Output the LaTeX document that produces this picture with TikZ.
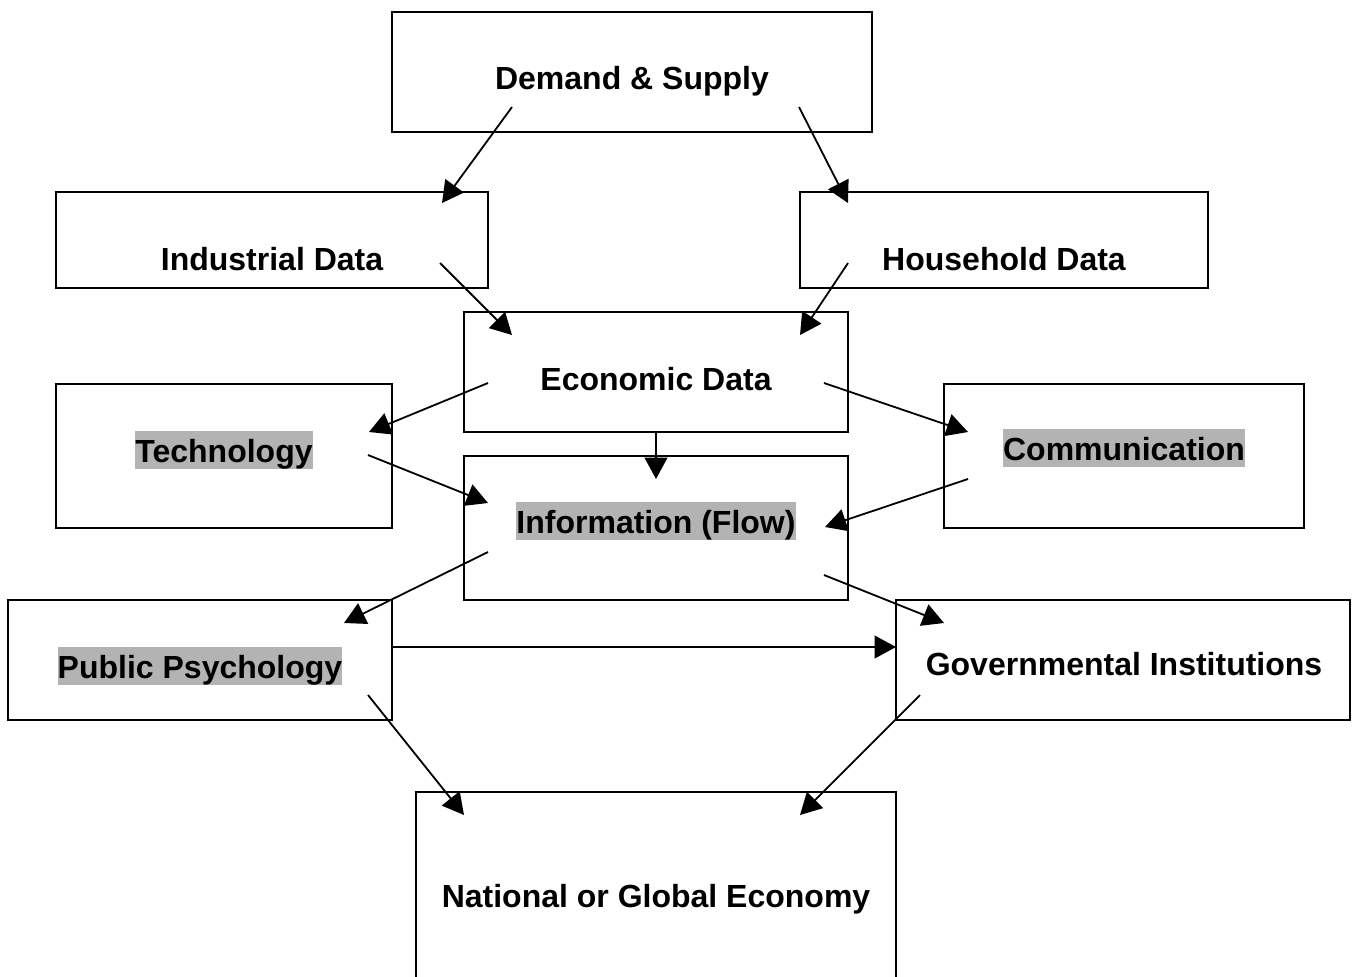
\documentclass[tikz,border=0pt]{standalone}
\usepackage{fontspec}
\setmainfont{Liberation Sans}
\usetikzlibrary{arrows.meta}
\definecolor{hl}{RGB}{179,179,179}
\begin{document}
\begin{tikzpicture}[x=0.75pt,y=-0.75pt,
  box/.style={draw, line width=1.6pt, fill=white, inner sep=0pt},
  lbl/.style={font=\fontsize{24pt}{28pt}\selectfont\bfseries, anchor=base, inner sep=0pt, text height=23.25pt, text depth=5.5pt},
  hlbl/.style={lbl, fill=hl},
  conn/.style={line width=1.35pt, -{Triangle[length=16pt,width=17pt]}}]
\useasboundingbox (0,0) rectangle (1352,976);
\clip (0,0) rectangle (1352,976);
\fill[white] (0,0) rectangle (1352,976);
% boxes
\node[box, minimum width=360pt, minimum height=90pt] (ds) at (632,72) {};
\node[box, minimum width=324pt, minimum height=72pt] (ind) at (272,240) {};
\node[box, minimum width=306pt, minimum height=72pt] (hh) at (1004,240) {};
\node[box, minimum width=288pt, minimum height=90pt] (eco) at (656,372) {};
\node[box, minimum width=252pt, minimum height=108pt] (tech) at (224,456) {};
\node[box, minimum width=288pt, minimum height=108pt] (info) at (656,528) {};
\node[box, minimum width=270pt, minimum height=108pt] (comm) at (1124,456) {};
\node[box, minimum width=288pt, minimum height=90pt] (pub) at (200,660) {};
\node[box, minimum width=340.5pt, minimum height=90pt] (gov) at (1123,660) {};
\node[box, minimum width=360pt, minimum height=162pt] (nat) at (656,900) {};
% texts
\node[lbl] (tds) at (632,89) {Demand \& Supply};
\node[lbl] (tind) at (272,270) {Industrial Data};
\node[lbl] (thh) at (1004,270) {Household Data};
\node[lbl] (teco) at (656,390) {Economic Data};
\node[hlbl] (ttech) at (224,462) {Technology};
\node[hlbl] (tinfo) at (656,533) {Information (Flow)};
\node[hlbl] (tcomm) at (1124,460) {Communication};
\node[hlbl] (tpub) at (200,678) {Public Psychology};
\node[lbl] (tgov) at (1124,675) {Governmental Institutions};
\node[lbl] (tnat) at (656,907) {National or Global Economy};
% connector end points
\coordinate (ds-a) at (512,107);  \coordinate (ind-in) at (442,203);
\coordinate (ds-b) at (799,107);  \coordinate (hh-in) at (848,203);
\coordinate (ind-out) at (440,263); \coordinate (eco-in1) at (512,335);
\coordinate (hh-out) at (848,263);  \coordinate (eco-in2) at (800,335);
\coordinate (eco-a) at (488,383);  \coordinate (tech-in) at (369,432);
\coordinate (tech-out) at (368,455); \coordinate (info-in1) at (488,503);
\coordinate (eco-b) at (656,432);  \coordinate (info-in2) at (656,479);
\coordinate (eco-c) at (824,383);  \coordinate (comm-in) at (968,432);
\coordinate (comm-out) at (968,479); \coordinate (info-in3) at (825,527);
\coordinate (info-a) at (824,575); \coordinate (gov-in1) at (944,623);
\coordinate (info-b) at (488,552); \coordinate (pub-in) at (344,623);
\coordinate (pub-a) at (392,647);  \coordinate (gov-in2) at (896,647);
\coordinate (pub-b) at (368,695);  \coordinate (nat-in1) at (464,815);
\coordinate (gov-out) at (920,695); \coordinate (nat-in2) at (800,815);
% connectors
\draw[conn] (ds-a) -- (ind-in);
\draw[conn] (ds-b) -- (hh-in);
\draw[conn] (ind-out) -- (eco-in1);
\draw[conn] (hh-out) -- (eco-in2);
\draw[conn] (eco-a) -- (tech-in);
\draw[conn] (tech-out) -- (info-in1);
\draw[conn] (eco-b) -- (info-in2);
\draw[conn] (eco-c) -- (comm-in);
\draw[conn] (comm-out) -- (info-in3);
\draw[conn] (info-a) -- (gov-in1);
\draw[conn] (info-b) -- (pub-in);
\draw[conn] (pub-a) -- (gov-in2);
\draw[conn] (pub-b) -- (nat-in1);
\draw[conn] (gov-out) -- (nat-in2);
\end{tikzpicture}
\end{document}
